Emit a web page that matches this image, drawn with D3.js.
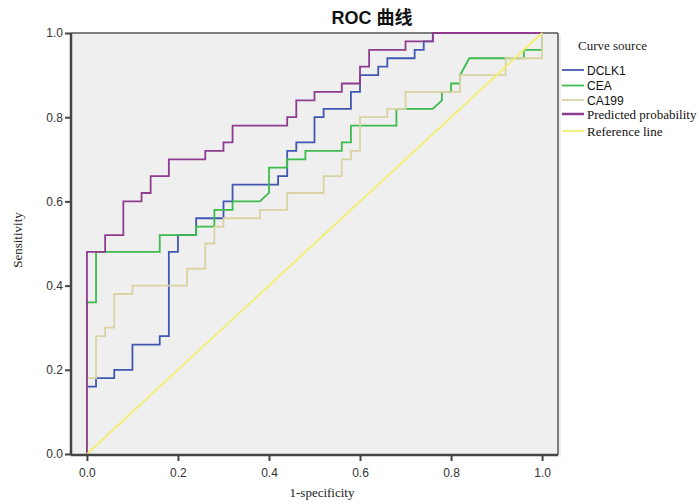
<!DOCTYPE html>
<html>
<head>
<meta charset="utf-8">
<script src="https://cdn.jsdelivr.net/npm/d3@7"></script>
<style>
  body { margin: 0; background: #fff; }
  svg { display: block; }
</style>
</head>
<body>
<svg id="chart"></svg>
<script>

// ROC points, [1-specificity, sensitivity]

var dclk1 = [[0,0],[0,0.16],[0.02,0.16],[0.02,0.18],[0.06,0.18],[0.06,0.20],[0.10,0.20],[0.10,0.26],
  [0.16,0.26],[0.16,0.28],[0.18,0.28],[0.18,0.48],[0.20,0.48],[0.20,0.52],[0.24,0.52],[0.24,0.56],
  [0.30,0.56],[0.30,0.60],[0.32,0.60],[0.32,0.64],[0.42,0.64],[0.42,0.66],[0.44,0.66],[0.44,0.72],
  [0.46,0.72],[0.46,0.74],[0.50,0.74],[0.50,0.80],[0.52,0.80],[0.52,0.82],[0.58,0.82],[0.58,0.86],
  [0.60,0.86],[0.60,0.90],[0.64,0.90],[0.64,0.92],[0.66,0.92],[0.66,0.94],[0.72,0.94],[0.72,0.96],
  [0.74,0.96],[0.74,0.98],[0.76,0.98],[0.76,1],[1,1]]

var cea = [[0,0],[0,0.36],[0.02,0.36],[0.02,0.48],[0.16,0.48],[0.16,0.52],[0.24,0.52],[0.24,0.54],
  [0.28,0.54],[0.28,0.58],[0.32,0.58],[0.32,0.60],[0.38,0.60],[0.40,0.62],[0.40,0.68],[0.44,0.68],
  [0.44,0.70],[0.48,0.70],[0.48,0.72],[0.56,0.72],[0.56,0.74],[0.58,0.74],[0.58,0.78],[0.68,0.78],
  [0.68,0.82],[0.76,0.82],[0.78,0.84],[0.78,0.86],[0.80,0.86],[0.80,0.88],[0.82,0.88],[0.82,0.90],
  [0.84,0.94],[0.96,0.94],[0.96,0.96],[1,0.96],[1,1]]

var ca199 = [[0,0],[0,0.18],[0.02,0.18],[0.02,0.28],[0.04,0.28],[0.04,0.30],[0.06,0.30],[0.06,0.38],
  [0.10,0.38],[0.10,0.40],[0.22,0.40],[0.22,0.44],[0.26,0.44],[0.26,0.50],[0.28,0.50],[0.28,0.54],
  [0.30,0.54],[0.30,0.56],[0.38,0.56],[0.38,0.58],[0.44,0.58],[0.44,0.62],[0.52,0.62],[0.52,0.66],
  [0.56,0.66],[0.56,0.70],[0.58,0.70],[0.58,0.72],[0.60,0.72],[0.60,0.80],[0.66,0.80],[0.66,0.82],
  [0.70,0.82],[0.70,0.86],[0.82,0.86],[0.82,0.90],[0.92,0.90],[0.92,0.94],[1,0.94],[1,1]]

var predicted = [[0,0],[0,0.48],[0.04,0.48],[0.04,0.52],[0.08,0.52],[0.08,0.60],[0.12,0.60],[0.12,0.62],
  [0.14,0.62],[0.14,0.66],[0.18,0.66],[0.18,0.70],[0.26,0.70],[0.26,0.72],[0.30,0.72],[0.30,0.74],
  [0.32,0.74],[0.32,0.78],[0.44,0.78],[0.44,0.80],[0.46,0.80],[0.46,0.84],[0.50,0.84],[0.50,0.86],
  [0.56,0.86],[0.56,0.88],[0.60,0.88],[0.60,0.92],[0.62,0.92],[0.62,0.96],[0.70,0.96],[0.70,0.98],
  [0.76,0.98],[0.76,1],[1,1]]

var reference = [[0,0],[1,1]]

var seriesNames = ["DCLK1", "CEA", "CA199", "Predicted probability", "Reference line"]
var seriesData = [dclk1, cea, ca199, predicted, reference]
var seriesColors = ["#4257b2", "#3dbb4c", "#d9d3a3", "#8e3c8e", "#f3ee6c"]
var tickValues = [0, 0.2, 0.4, 0.6, 0.8, 1.0]

var screen = {width: 699, height: 502}
var plot = {left: 71, right: 558, top: 33, bottom: 455}

var svg = d3.select("#chart")
  .attr("width", screen.width)
  .attr("height", screen.height)

var xScale = d3.scaleLinear()
  .domain([-0.035, 1.035])
  .range([plot.left, plot.right])

var yScale = d3.scaleLinear()
  .domain([0, 1])
  .range([plot.bottom - 1, plot.top])

// grey panel + frame
svg.append("rect")
  .attr("x", plot.left)
  .attr("y", plot.top)
  .attr("width", plot.right - plot.left)
  .attr("height", plot.bottom - plot.top)
  .attr("fill", "#efefef")

svg.append("line")
  .attr("x1", plot.left).attr("x2", plot.right)
  .attr("y1", plot.top).attr("y2", plot.top)
  .attr("stroke", "#555").attr("stroke-width", 1.5)
svg.append("line")
  .attr("x1", plot.right).attr("x2", plot.right)
  .attr("y1", plot.top).attr("y2", plot.bottom)
  .attr("stroke", "#555").attr("stroke-width", 1.5)
svg.append("line")
  .attr("x1", plot.right + 2).attr("x2", plot.right + 2)
  .attr("y1", plot.top + 2).attr("y2", plot.bottom + 2)
  .attr("stroke", "#ddd").attr("stroke-width", 1)

// curves
var line = d3.line()
  .x(function(d) { return xScale(d[0]) })
  .y(function(d) { return yScale(d[1]) })

svg.append("g")
  .selectAll("path")
  .data(seriesData)
  .enter()
  .append("path")
  .attr("d", line)
  .attr("fill", "none")
  .attr("stroke", function(d, i) { return seriesColors[i] })
  .attr("stroke-width", 1.8)
  .attr("stroke-linejoin", "miter")

// axes
var xAxis = d3.axisBottom(xScale)
  .tickValues(tickValues)
  .tickSize(6)
  .tickFormat(d3.format(".1f"))
var yAxis = d3.axisLeft(yScale)
  .tickValues(tickValues)
  .tickSize(6)
  .tickFormat(d3.format(".1f"))

var gx = svg.append("g")
  .attr("transform", "translate(0," + plot.bottom + ")")
  .call(xAxis)
var gy = svg.append("g")
  .attr("transform", "translate(" + plot.left + ",0)")
  .call(yAxis)

;[gx, gy].forEach(function(g) {
  g.select(".domain").attr("stroke", "#444").attr("stroke-width", 2.5)
  g.selectAll(".tick line").attr("stroke", "#444").attr("stroke-width", 2)
  g.selectAll(".tick text")
    .attr("fill", "#333")
    .style("font-family", "'Liberation Sans', Arial, sans-serif")
    .style("font-size", "12px")
})
gx.select(".domain").attr("d", "M" + plot.left + ",0H" + plot.right)
gy.select(".domain").attr("d", "M0," + plot.top + "V" + plot.bottom)
gx.selectAll(".tick text").attr("dy", "1.05em")
gy.selectAll(".tick text").attr("x", -8)

// title and labels
svg.append("text")
  .attr("x", 372).attr("y", 24)
  .attr("text-anchor", "middle")
  .style("font-family", "'Liberation Sans', 'Noto Sans CJK SC', sans-serif")
  .style("font-weight", "bold")
  .style("font-size", "18px")
  .attr("fill", "#111")
  .text("ROC 曲线")

svg.append("text")
  .attr("x", 322).attr("y", 497)
  .attr("text-anchor", "middle")
  .style("font-family", "'Liberation Serif', 'Times New Roman', serif")
  .style("font-size", "13px")
  .attr("fill", "#222")
  .text("1-specificity")

svg.append("text")
  .attr("transform", "translate(22,240) rotate(-90)")
  .attr("text-anchor", "middle")
  .style("font-family", "'Liberation Serif', 'Times New Roman', serif")
  .style("font-size", "13px")
  .attr("fill", "#222")
  .text("Sensitivity")

// legend
var legend = svg.append("g")

legend.append("text")
  .attr("x", 578).attr("y", 50)
  .style("font-family", "'Liberation Serif', 'Times New Roman', serif")
  .style("font-size", "13px")
  .attr("fill", "#222")
  .text("Curve source")

var legendY = [70, 85.5, 100, 114, 131]

var items = legend.selectAll("g.item")
  .data(seriesNames)
  .enter()
  .append("g")
  .attr("class", "item")
  .attr("transform", function(d, i) { return "translate(0," + legendY[i] + ")" })

items.append("line")
  .attr("x1", 562).attr("x2", 584)
  .attr("y1", 0).attr("y2", 0)
  .attr("stroke", function(d, i) { return seriesColors[i] })
  .attr("stroke-width", function(d, i) { return i == 3 ? 2.5 : 1.8 })

items.append("text")
  .attr("x", 587)
  .attr("y", 4.5)
  .style("font-family", function(d, i) {
    return i < 3 ? "'Liberation Sans', Arial, sans-serif" : "'Liberation Serif', 'Times New Roman', serif"
  })
  .style("font-size", function(d, i) { return i < 3 ? "12px" : "13px" })
  .attr("fill", "#111")
  .text(function(d) { return d })

</script>
</body>
</html>
